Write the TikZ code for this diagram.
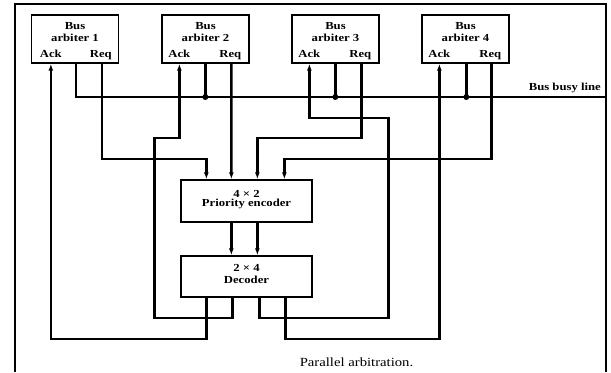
\documentclass[tikz,border=0pt]{standalone}
\usepackage{fontspec}
\newfontfamily\lblfont{Liberation Serif}[FakeStretch=1.18]
\usetikzlibrary{arrows.meta,calc}
\begin{document}
\begin{tikzpicture}[x=1bp,y=-1bp,
  blk/.style={draw, line width=1.3bp, minimum width=87bp, minimum height=48bp, inner sep=0pt},
  unit/.style={draw, line width=1.3bp, minimum width=131bp, minimum height=42bp, inner sep=0pt},
  wire/.style={line width=2.3bp},
  arr/.style={wire, -{Latex[length=7bp,width=5bp]}},
  lbl/.style={font=\lblfont\bfseries\fontsize{10.8}{12}\selectfont, inner sep=0pt, anchor=base},
  captext/.style={font=\lblfont\fontsize{12.5}{14}\selectfont, inner sep=0pt, anchor=base},
  dot/.style={circle, fill, inner sep=0pt, minimum size=6bp}]
\useasboundingbox (0,0) rectangle (611,372);
% open frame
\draw[line width=1.3bp] (15,372) -- (15,4) -- (606,4) -- (606,372);

% bus arbiters
\foreach \i/\cx in {1/75,2/205.5,3/335.5,4/465.5}{
  \node[blk] (arb\i) at (\cx,39) {};
  \node[lbl] (arbbus\i) at (\cx,29.3) {Bus};
  \node[lbl] (arbname\i) at (\cx,41.5) {arbiter \i};
}
% ports: Ack, busy, Req
\path (arb1.south west) ++(20,0) coordinate (ack1) ++(25,0) coordinate (busy1) ++(26,0) coordinate (req1);
\path (arb2.south west) ++(18,0) coordinate (ack2) ++(26,0) coordinate (busy2) ++(26,0) coordinate (req2);
\path (arb3.south west) ++(18,0) coordinate (ack3) ++(26,0) coordinate (busy3) ++(26,0) coordinate (req3);
\path (arb4.south west) ++(18,0) coordinate (ack4) ++(27,0) coordinate (busy4) ++(25,0) coordinate (req4);
\foreach \i in {1,2,3,4}{
  \node[lbl] (acklbl\i) at ($(ack\i)+(0,-5.7)$) {Ack};
  \node[lbl] (reqlbl\i) at ($(req\i)+(-1,-5.7)$) {Req};
}

% encoder and decoder
\node[unit] (enc) at (246.5,201) {};
\node[lbl] (enct) at (246.5,197) {4 × 2};
\node[lbl] (encn) at (246.5,206.7) {Priority encoder};
\node[unit, minimum height=41bp] (dec) at (246.5,276.5) {};
\node[lbl] (dect) at (246.5,271.7) {2 × 4};
\node[lbl] (decn) at (246.5,283) {Decoder};

\path (enc.north west) ++(26,0) coordinate (e1) ++(25,0) coordinate (e2) ++(26,0) coordinate (e3) ++(27,0) coordinate (e4);
\path (dec.south west) ++(26,0) coordinate (d1) ++(26,0) coordinate (d2) ++(27,0) coordinate (d3) ++(26,0) coordinate (d4);

% bus busy line
\coordinate (busend) at (606,97);
\draw[wire] (busy1) |- (busend);
\foreach \i in {2,3,4}{
  \draw[wire] (busy\i) -- (busy\i |- busend);
  \node[dot] (bj\i) at (busy\i |- busend) {};
}
\node[lbl, anchor=base east] (buslbl) at (601,90.7) {Bus busy line};

% requests into the encoder
\draw[arr] (req1) -- ++(0,95) -| (e1);
\draw[arr] (req2) -- (e2);
\draw[arr] (req3) -- ++(0,74) -| (e3);
\draw[arr] (req4) -- ++(0,95) -| (e4);

% encoder to decoder
\draw[arr] (enc.south -| e2) -- (dec.north -| e2);
\draw[arr] (enc.south -| e3) -- (dec.north -| e3);

% acknowledges back to the arbiters
\draw[arr] (d1) -- ++(0,41) -| (ack1);
\draw[arr] (d2) -- ++(0,20) -| ++(-78,-180) -| (ack2);
\draw[arr] (d3) -- ++(0,20) -| ++(129,-200) -| (ack3);
\draw[arr] (d4) -- ++(0,41) -| (ack4);

\node[captext] (caption) at (356.5,366) {Parallel arbitration.};
\end{tikzpicture}
\end{document}
